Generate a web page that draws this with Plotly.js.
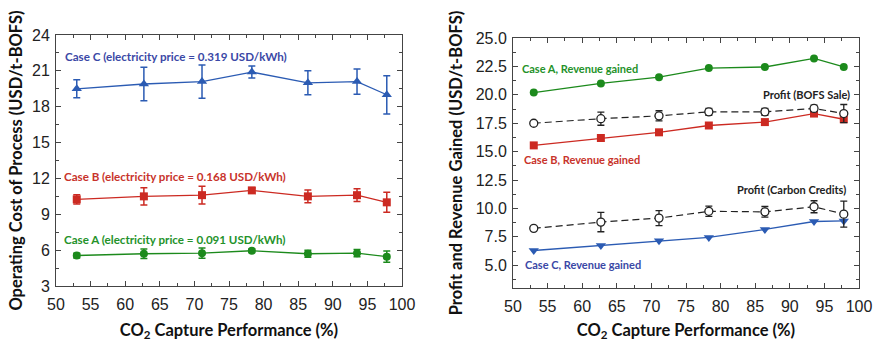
<!DOCTYPE html>
<html>
<head>
<meta charset="utf-8">
<script src="https://cdn.plot.ly/plotly-3.0.1.min.js"></script>
<style>html,body{margin:0;padding:0;background:#fff;}#chart{width:877px;height:341px;}</style>
</head>
<body>
<div id="chart"></div>
<script>
// ---- Data ----
const capture = [53.0, 62.7, 71.1, 78.3, 86.4, 93.5, 97.8];

// Left panel: operating cost (USD/t-BOFS)
const costC = [19.5, 19.9, 20.1, 20.9, 20.0, 20.1, 19.0];
const costCErr = [0.75, 1.4, 1.4, 0.5, 1.0, 1.05, 1.6];
const costB = [10.25, 10.5, 10.6, 11.0, 10.5, 10.6, 10.0];
const costBErr = [0.38, 0.72, 0.74, 0.2, 0.53, 0.53, 0.84];
const costA = [5.55, 5.7, 5.75, 5.95, 5.7, 5.75, 5.45];
const costAErr = [0.2, 0.4, 0.42, 0.15, 0.3, 0.3, 0.47];

// Right panel: profit and revenue (USD/t-BOFS)
const revA = [20.2, 21.0, 21.55, 22.35, 22.45, 23.2, 22.45];
const profitBOFS = [17.5, 17.9, 18.15, 18.5, 18.5, 18.8, 18.35];
const profitBOFSErr = [0.1, 0.58, 0.45, 0.3, 0.3, 0.28, 0.8];
const revB = [15.55, 16.2, 16.7, 17.3, 17.6, 18.35, 17.85];
const profitCC = [8.25, 8.8, 9.15, 9.75, 9.7, 10.15, 9.5];
const profitCCErr = [0.1, 0.85, 0.66, 0.45, 0.47, 0.53, 1.15];
const revC = [6.3, 6.75, 7.15, 7.45, 8.15, 8.85, 8.9];

const leftLabels = ["Case C (electricity price = 0.319 USD/kWh)",
                    "Case B (electricity price = 0.168 USD/kWh)",
                    "Case A (electricity price = 0.091 USD/kWh)"];
const rightLabels = ["Case A, Revenue gained", "Profit (BOFS Sale)", "Case B, Revenue gained",
                     "Profit (Carbon Credits)", "Case C, Revenue gained"];
const xTitle = "CO<sub>2</sub> Capture Performance (%)";
const yTitleLeft = "Operating Cost of Process (USD/t-BOFS)";
const yTitleRight = "Profit and Revenue Gained (USD/t-BOFS)";

// ---- Styles ----
const BLUE = '#2B5BB3', RED = '#CC2A22', GREEN = '#1C8A1C';
const BLUE_T = '#3A48A6', RED_T = '#C8332B', GREEN_T = '#24922A';

function errSeries(x, y, err, color, symbol, xa, ya, size) {
  return {
    x: x, y: y, xaxis: xa, yaxis: ya, type: 'scatter', mode: 'lines+markers',
    line: {color: color, width: 1.3},
    marker: {color: color, symbol: symbol, size: size},
    error_y: err ? {type: 'data', array: err, visible: true, color: color, thickness: 1.5, width: 3.5} : undefined,
    showlegend: false, hoverinfo: 'skip'
  };
}

const traces = [
  errSeries(capture, costC, costCErr, BLUE, 'triangle-up', 'x', 'y', 9),
  errSeries(capture, costB, costBErr, RED, 'square', 'x', 'y', 8),
  errSeries(capture, costA, costAErr, GREEN, 'circle', 'x', 'y', 8),
  errSeries(capture, revA, null, GREEN, 'circle', 'x2', 'y2', 8),
  errSeries(capture, revB, null, RED, 'square', 'x2', 'y2', 8),
  errSeries(capture, revC, null, BLUE, 'triangle-down', 'x2', 'y2', 9),
  {
    x: capture, y: profitBOFS, xaxis: 'x2', yaxis: 'y2', type: 'scatter', mode: 'lines+markers',
    line: {color: '#222', width: 1.2, dash: '7px,4px'},
    marker: {color: '#fff', symbol: 'circle', size: 8, line: {color: '#222', width: 1.3}},
    error_y: {type: 'data', array: profitBOFSErr, visible: true, color: '#222', thickness: 1.3, width: 3.5},
    showlegend: false, hoverinfo: 'skip'
  },
  {
    x: capture, y: profitCC, xaxis: 'x2', yaxis: 'y2', type: 'scatter', mode: 'lines+markers',
    line: {color: '#222', width: 1.2, dash: '7px,4px'},
    marker: {color: '#fff', symbol: 'circle', size: 8, line: {color: '#222', width: 1.3}},
    error_y: {type: 'data', array: profitCCErr, visible: true, color: '#222', thickness: 1.3, width: 3.5},
    showlegend: false, hoverinfo: 'skip'
  }
];

const tickFont = {family: '"Liberation Sans", Arial, sans-serif', size: 16, color: '#222'};
const titleFont = {family: 'Lato, "Open Sans", sans-serif', size: 16.5, color: '#111', weight: 'bold'};

function xAxis(domain, anchor) {
  return {
    domain: domain, anchor: anchor, range: [50, 100], tick0: 50, dtick: 5,
    ticks: 'inside', ticklen: 5, tickcolor: '#444', tickwidth: 1,
    minor: {dtick: 2.5, ticks: 'inside', ticklen: 3, tickcolor: '#444'},
    showline: true, linecolor: '#444', linewidth: 1, mirror: 'allticks',
    showgrid: false, zeroline: false, tickfont: tickFont, ticklabelstandoff: 4,
    title: {text: xTitle, font: titleFont, standoff: 13}
  };
}

const layout = {
  width: 877, height: 341,
  margin: {l: 0, r: 0, t: 0, b: 0},
  paper_bgcolor: '#fff', plot_bgcolor: '#fff',
  showlegend: false,
  xaxis: xAxis([56/877, 402/877], 'y'),
  xaxis2: xAxis([513/877, 859/877], 'y2'),
  yaxis: {
    domain: [1 - 286/341, 1 - 35/341], anchor: 'x', range: [3, 24], tick0: 0, dtick: 3,
    ticks: 'inside', ticklen: 5, tickcolor: '#444',
    minor: {dtick: 1.5, ticks: 'inside', ticklen: 3, tickcolor: '#444'},
    showline: true, linecolor: '#444', linewidth: 1, mirror: 'allticks',
    showgrid: false, zeroline: false, tickfont: tickFont, ticklabelstandoff: 2,
    title: {text: yTitleLeft, font: titleFont, standoff: 5}
  },
  yaxis2: {
    domain: [1 - 288/341, 1 - 38/341], anchor: 'x2', range: [3, 25], tick0: 0, dtick: 2.5,
    tickformat: '.1f',
    ticks: 'inside', ticklen: 5, tickcolor: '#444',
    minor: {dtick: 1.25, ticks: 'inside', ticklen: 3, tickcolor: '#444'},
    showline: true, linecolor: '#444', linewidth: 1, mirror: 'allticks',
    showgrid: false, zeroline: false, tickfont: tickFont, ticklabelstandoff: 2,
    title: {text: yTitleRight, font: titleFont, standoff: 8}
  },
  annotations: []
};

const annFont = (c, s) => ({family: 'Lato, "Open Sans", sans-serif', size: s, color: c, weight: 'bold'});
const ann = (text, x, y, xr, yr, color, xanchor, s) => ({
  text: text, x: x, y: y, xref: xr, yref: yr, xanchor: xanchor, yanchor: 'middle',
  showarrow: false, font: annFont(color, s)
});
layout.annotations.push(
  ann(leftLabels[0], 51.0, 22.24, 'x', 'y', BLUE_T, 'left', 11.6),
  ann(leftLabels[1], 50.9, 12.19, 'x', 'y', RED_T, 'left', 11.6),
  ann(leftLabels[2], 50.9, 6.91, 'x', 'y', GREEN_T, 'left', 11.6),
  ann(rightLabels[0], 50.95, 22.3, 'x2', 'y2', GREEN_T, 'left', 11),
  ann(rightLabels[1], 99.0, 20.0, 'x2', 'y2', '#222', 'right', 11),
  ann(rightLabels[2], 51.3, 14.3, 'x2', 'y2', RED_T, 'left', 11),
  ann(rightLabels[3], 98.4, 11.66, 'x2', 'y2', '#222', 'right', 11),
  ann(rightLabels[4], 51.5, 5.06, 'x2', 'y2', BLUE_T, 'left', 11)
);

Plotly.newPlot('chart', traces, layout, {staticPlot: true, displayModeBar: false});
</script>
</body>
</html>
